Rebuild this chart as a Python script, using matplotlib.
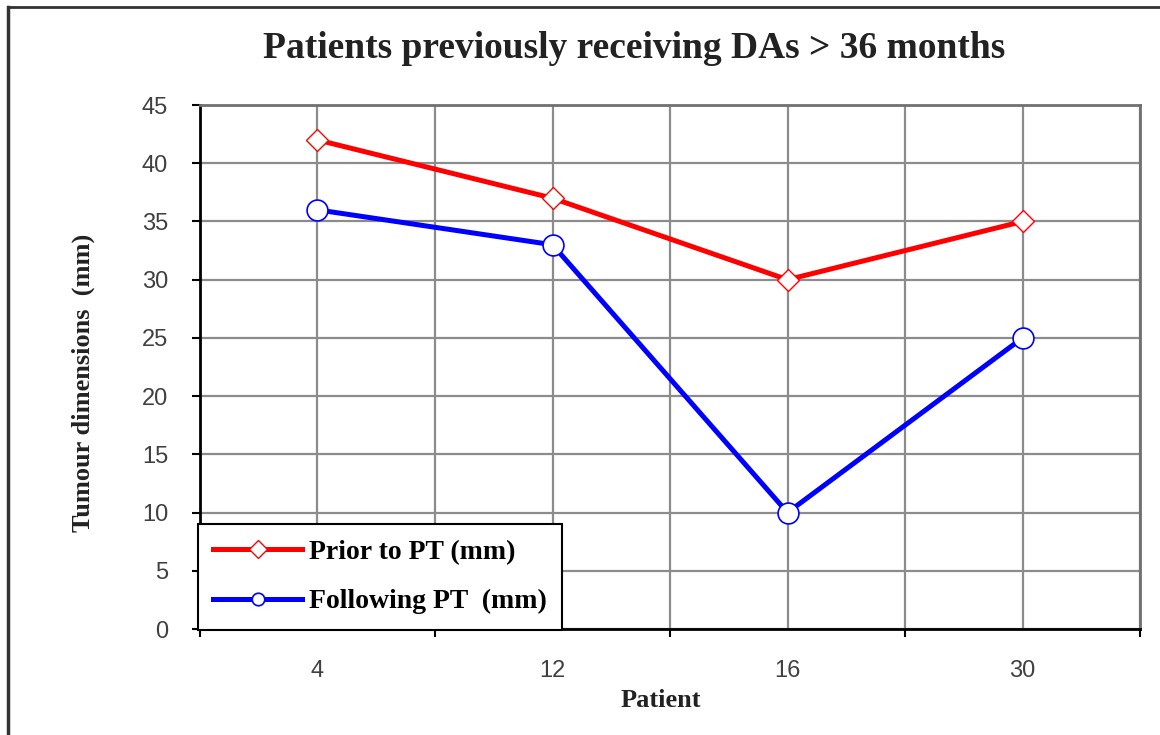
import numpy as np
import matplotlib
matplotlib.use("Agg")
from matplotlib import pyplot as plt
from matplotlib.lines import Line2D

# data
patients = ["4", "12", "16", "30"]
prior_pt = [42, 37, 30, 35]
following_pt = [36, 33, 10, 25]
y_ticks = [0, 5, 10, 15, 20, 25, 30, 35, 40, 45]

serif = "Liberation Serif"
sans = "Liberation Sans"

fig = plt.figure(figsize=(11.6, 7.35), dpi=100)
ax = fig.add_axes([0.1724, 0.1442, 0.8104, 0.7129])

x = np.arange(len(patients))
ax.plot(x, prior_pt, color="red", lw=3.6, marker="D", ms=11,
        mfc="white", mec="red", mew=1.0, label="Prior to PT (mm)", zorder=3)
ax.plot(x, following_pt, color="blue", lw=3.6, marker="o", ms=15,
        mfc="white", mec="blue", mew=1.2, label="Following PT  (mm)", zorder=3)

ax.set_xlim(-0.5, len(patients) - 0.5)
ax.set_ylim(0, 45)
ax.set_yticks(y_ticks)

# ticks on category boundaries, labels at category centres
ax.set_xticks(np.arange(-0.5, len(patients), 1.0))
ax.set_xticklabels([])
ax.set_xticks(x, minor=True)
ax.set_xticklabels(patients, minor=True)
ax.tick_params(axis="x", which="major", direction="out", length=6, width=1.5, color="black")
ax.tick_params(axis="x", which="minor", length=0, pad=22, labelsize=17, labelcolor="#404040")
ax.tick_params(axis="y", direction="out", length=6, width=1.5, labelsize=17,
               labelcolor="#404040", pad=17)
for lbl in ax.get_xticklabels(minor=True) + ax.get_yticklabels():
    lbl.set_fontfamily(sans)

# grid every half category and at each y tick
for xv in np.arange(-0.5, len(patients), 0.5):
    ax.axvline(xv, color="#8c8c8c", lw=1.6, zorder=1)
for yv in y_ticks:
    ax.axhline(yv, color="#8c8c8c", lw=1.6, zorder=1)

ax.spines["left"].set_linewidth(2)
ax.spines["bottom"].set_linewidth(2)
ax.spines["top"].set_color("#707070")
ax.spines["right"].set_color("#707070")
ax.spines["top"].set_linewidth(2)
ax.spines["right"].set_linewidth(2)

ax.set_xlabel("Patient", fontfamily=serif, fontweight="bold", fontsize=19,
              color="#222222")
ax.xaxis.set_label_coords(0.49, -0.115)
ax.set_ylabel("Tumour dimensions  (mm)", fontfamily=serif, fontweight="bold",
              fontsize=19, color="#222222")
ax.yaxis.set_label_coords(-0.112, 0.47)

fig.text(0.547, 0.934, "Patients previously receiving DAs > 36 months",
         ha="center", va="center", fontfamily=serif, fontweight="bold",
         fontsize=27, color="#222222")

leg = ax.legend(loc="lower left", bbox_to_anchor=(-0.002, -0.001), frameon=True,
                fancybox=False, edgecolor="black", framealpha=1,
                prop={"family": serif, "weight": "bold", "size": 20},
                handlelength=3.2, borderpad=0.55, labelspacing=0.85,
                handletextpad=0.25, borderaxespad=0)
leg.get_frame().set_linewidth(1.5)
for h in leg.legend_handles:
    h.set_markersize(9)

# outer frame of the picture (top and left edges)
fig.add_artist(Line2D([0.007, 1.0], [0.990, 0.990], transform=fig.transFigure,
                      color="#333333", lw=2))
fig.add_artist(Line2D([0.007, 0.007], [0.0, 0.990], transform=fig.transFigure,
                      color="#333333", lw=2.5))

fig.savefig("out.png", dpi=100)
